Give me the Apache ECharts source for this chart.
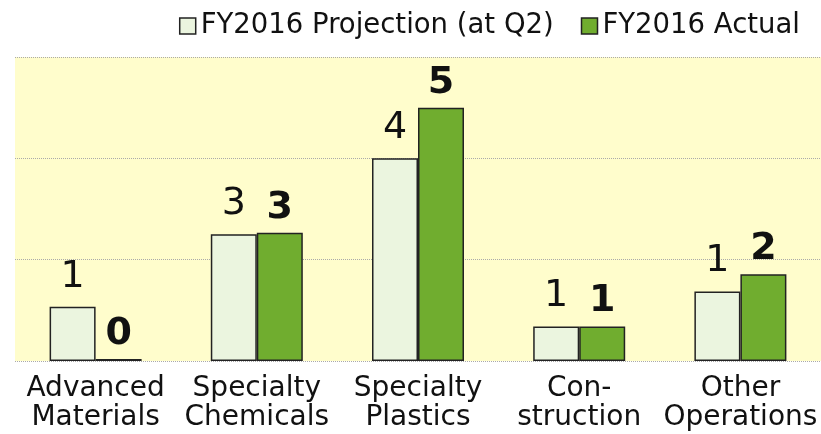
<!DOCTYPE html>
<html>
<head>
<meta charset="utf-8">
<script src="https://cdn.jsdelivr.net/npm/echarts@6/dist/echarts.min.js"></script>
<style>
  html, body { margin: 0; padding: 0; background: #fff; }
  #main { width: 821px; height: 434px; }
</style>
</head>
<body>
<div id="main"></div>
<script>
var categories = ['Advanced\nMaterials', 'Specialty\nChemicals', 'Specialty\nPlastics', 'Con-\nstruction', 'Other\nOperations'];
var projection = [1.07, 2.5, 4.0, 0.68, 1.37];
var actual = [0.04, 2.53, 5.0, 0.68, 1.71];
var seriesNames = ['FY2016 Projection (at Q2)', 'FY2016 Actual'];

var font = 'DejaVu Sans';
var chart = echarts.init(document.getElementById('main'));

function roundLabel(p) {
    return Math.round(p.value);
}

var option = {
    animation: false,
    textStyle: { fontFamily: font },
    legend: {
        right: 16,
        top: 7,
        icon: 'rect',
        itemWidth: 16,
        itemHeight: 16,
        itemGap: 27,
        itemStyle: { borderColor: '#222', borderWidth: 1.5 },
        textStyle: { fontSize: 27.5, color: '#111', fontFamily: font },
        data: seriesNames
    },
    grid: {
        left: 15,
        right: 0,
        top: 57,
        bottom: 73,
        show: true,
        backgroundColor: '#FFFDCC',
        borderWidth: 0
    },
    xAxis: {
        type: 'category',
        data: categories,
        axisLine: { show: false },
        axisTick: { show: false },
        axisLabel: {
            interval: 0,
            fontSize: 28,
            lineHeight: 29,
            color: '#111',
            margin: 13
        }
    },
    yAxis: {
        type: 'value',
        min: 0,
        max: 6,
        interval: 2,
        axisLabel: { show: false },
        axisLine: { show: false },
        axisTick: { show: false },
        splitLine: { lineStyle: { color: '#aaa', type: 'dotted', width: 1 } }
    },
    series: [
        {
            name: seriesNames[0],
            type: 'bar',
            data: projection,
            barWidth: 46,
            barGap: '0%',
            itemStyle: { color: '#EBF5DF', borderColor: '#222', borderWidth: 1.5 },
            label: {
                show: true,
                position: 'top',
                distance: 11,
                fontSize: 38,
                color: '#111',
                formatter: roundLabel
            }
        },
        {
            name: seriesNames[1],
            type: 'bar',
            data: actual,
            barWidth: 46,
            itemStyle: { color: '#70AD2F', borderColor: '#222', borderWidth: 1.5 },
            label: {
                show: true,
                position: 'top',
                distance: 6,
                fontSize: 38,
                fontWeight: 'bold',
                color: '#111',
                formatter: roundLabel
            }
        }
    ]
};
chart.setOption(option);
</script>
</body>
</html>
